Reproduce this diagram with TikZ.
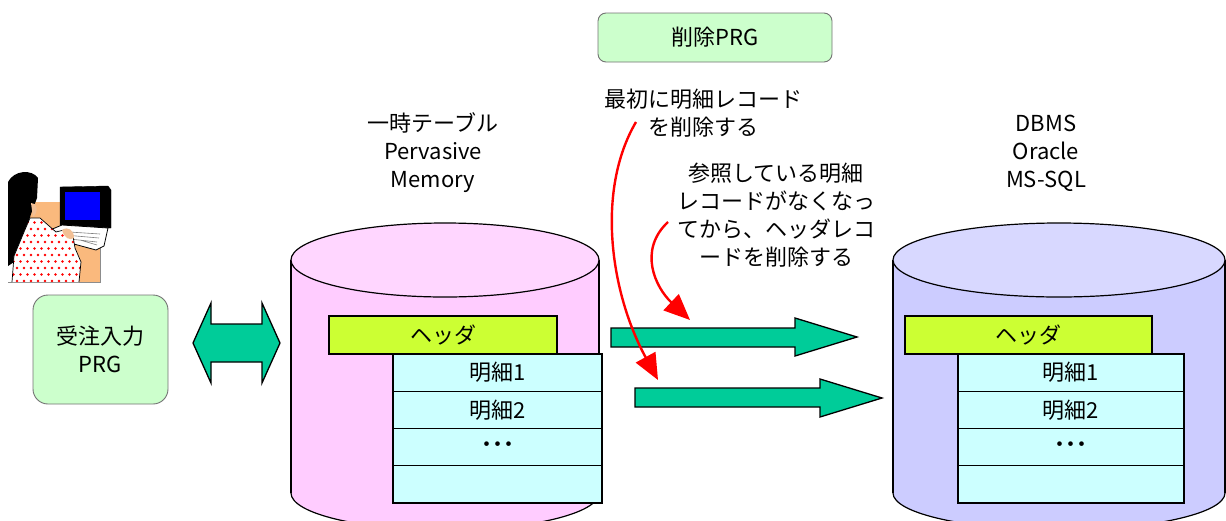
\documentclass[tikz,border=0pt]{standalone}
\usepackage{fontspec}
\setmainfont{Noto Sans CJK JP}
\usetikzlibrary{arrows.meta}

\definecolor{prgfill}{RGB}{204,255,204}
\definecolor{flow}{RGB}{0,204,153}
\definecolor{tmpside}{RGB}{255,204,255}
\definecolor{tmptop}{RGB}{255,214,255}
\definecolor{dbside}{RGB}{204,204,255}
\definecolor{dbtop}{RGB}{216,216,255}
\definecolor{hdrfill}{RGB}{204,255,51}
\definecolor{rowfill}{RGB}{204,255,255}
\definecolor{desk}{RGB}{250,185,125}
\definecolor{skin}{RGB}{242,192,150}

\begin{document}
\begin{tikzpicture}[x=1pt,y=-1pt,
  txt/.style={font=\fontsize{22}{28}\selectfont, inner sep=0pt, align=center},
  prg/.style={draw=black!55, fill=prgfill, line width=0.9pt},
  rec/.style={draw=black, line width=1.3pt},
  hdr/.style={rec, txt, fill=hdrfill, minimum height=38pt},
  row/.style={rec, txt, fill=rowfill, minimum height=37.25pt},
  blockarrow/.style={fill=flow, draw=black, line width=1.3pt},
  note/.style={draw=red, line width=2.4pt, -{Triangle[length=26pt,width=22pt]}},
  drumline/.style={draw=black, line width=1.2pt},
]
\useasboundingbox (0,0) rectangle (1226,520);

\begin{scope}
\clip (0,0) rectangle (1226,520);

% ---- temporary table drum ----
\fill[tmpside] (291,260) rectangle (599,493);
\fill[tmpside] (445,493) ellipse[x radius=154, y radius=37];
\draw[drumline] (291,260) -- (291,493);
\draw[drumline] (599,260) -- (599,493);
\begin{scope}
  \clip (0,493) rectangle (1226,600);
  \draw[drumline] (445,493) ellipse[x radius=154, y radius=37];
\end{scope}
\filldraw[drumline, fill=tmptop] (445,260) ellipse[x radius=154, y radius=37];

% ---- DBMS drum ----
\fill[dbside] (893,260) rectangle (1225,493);
\fill[dbside] (1059,493) ellipse[x radius=166, y radius=37];
\draw[drumline] (893,260) -- (893,493);
\draw[drumline] (1225,260) -- (1225,493);
\begin{scope}
  \clip (0,493) rectangle (1226,600);
  \draw[drumline] (1059,493) ellipse[x radius=166, y radius=37];
\end{scope}
\filldraw[drumline, fill=dbtop] (1059,260) ellipse[x radius=166, y radius=37];
\end{scope}

% ---- records in the temporary table ----
\node[hdr, minimum width=228pt] (hdrL) at (443,335) {ヘッダ};
\node[row, minimum width=209pt] (rowL1) at (497.5,372.6) {明細1};
\node[row, minimum width=209pt] (rowL2) at (497.5,409.9) {明細2};
\node[row, minimum width=209pt] (rowL3) at (497.5,447.1) {\bfseries ･･･};
\node[row, minimum width=209pt] (rowL4) at (497.5,484.4) {};

% ---- records in the DBMS ----
\node[hdr, minimum width=247pt] (hdrR) at (1028.5,335) {ヘッダ};
\node[row, minimum width=226pt] (rowR1) at (1071,372.6) {明細1};
\node[row, minimum width=226pt] (rowR2) at (1071,409.9) {明細2};
\node[row, minimum width=226pt] (rowR3) at (1071,447.1) {\bfseries ･･･};
\node[row, minimum width=226pt] (rowR4) at (1071,484.4) {};

% ---- labels ----
\node[txt] (tmpname) at (433,153) {一時テーブル\\Pervasive\\Memory};
\node[txt] (dbname) at (1046,153) {DBMS\\Oracle\\MS-SQL};
\node[txt] (first) at (703,113) {最初に明細レコード\\を削除する};
\node[txt] (then) at (776,215) {参照している明細\\レコードがなくなっ\\てから、ヘッダレコ\\ードを削除する};

% ---- programs ----
\node[prg, txt, rounded corners=8pt, minimum width=234pt, minimum height=49pt] (delprg) at (715,37.5) {削除PRG};
\node[prg, txt, rounded corners=15pt, minimum width=135pt, minimum height=109pt] (entry) at (100.5,349.5) {受注入力\\PRG};

% ---- operator at a terminal ----
\fill[desk] (30,202) rectangle (100,282);
\draw[black!45, line width=1pt] (8,282) -- (100,282) -- (100,232);
\filldraw[black] (60,187) -- (108,186) -- (111,190) -- (111,228) -- (62,228) -- (60,225) -- cycle;
\fill[blue] (65,192) rectangle (100,220);
\fill[black] (74,228) rectangle (100,232);
\filldraw[draw=black, fill=white, line width=0.8pt] (50,230) -- (62,225) -- (108,228) -- (104,246) -- (96,250) -- (48,237) -- cycle;
\draw[black!50, line width=0.6pt] (54,231) -- (100,234) (53,234) -- (99,238) (52,237) -- (97,242) (80,240) -- (97,245);
\fill[black] (8,182) .. controls (14,170) and (32,169) .. (38,178) -- (37,198) -- (31,214) -- (24,238) -- (14,262) -- (8,266) -- cycle;
\fill[skin] (31,203) .. controls (37,202) and (39,212) .. (33,217) -- cycle;
\begin{scope}
  \clip (12,282) -- (14,256) -- (24,232) -- (30,218) -- (40,218) -- (56,232) -- (64,230) -- (73,236) -- (75,248) -- (81,262) -- (79,282) -- cycle;
  \fill[white] (0,200) rectangle (100,290);
  \foreach \i in {0,...,10} \foreach \j in {0,...,10}
    \fill[red] ({10+\i*7+mod(\j,2)*3.5}, {216+\j*6.5}) circle[radius=1.3];
\end{scope}
\draw[black, line width=0.7pt] (12,282) -- (14,256) -- (24,232) -- (30,218) -- (40,218) -- (56,232) -- (64,230) -- (73,236) -- (75,248) -- (81,262) -- (79,282);
\fill[skin] (62,230) .. controls (68,226) and (74,230) .. (74,238) .. controls (70,241) and (64,238) .. cycle;

% ---- data flow arrows ----
\coordinate (io) at (236.5,343);
\filldraw[blockarrow] (193,343) -- (211,303) -- (211,324) -- (262,324) -- (262,303) -- (280,343)
  -- (262,383) -- (262,362) -- (211,362) -- (211,383) -- cycle;
\coordinate (hdrGo) at (611,337.5);
\coordinate (hdrTip) at (857,337);
\filldraw[blockarrow] (hdrGo |- 0,328) -- (795,328) -- (795,318) -- (hdrTip) -- (795,356) -- (795,347) -- (hdrGo |- 0,347) -- cycle;
\coordinate (rowGo) at (635,397.5);
\coordinate (rowTip) at (882,398);
\filldraw[blockarrow] (rowGo |- 0,388) -- (820,388) -- (820,379) -- (rowTip) -- (820,417) -- (820,407) -- (rowGo |- 0,407) -- cycle;

% ---- order of deletion ----
\coordinate (firstFrom) at (636,122);
\coordinate (firstTo) at (658,380);
\coordinate (thenFrom) at (668,222);
\coordinate (thenTo) at (690,320);
\draw[note] (firstFrom) .. controls (596,190) and (610,292) .. (firstTo);
\draw[note] (thenFrom) .. controls (638,250) and (655,287) .. (thenTo);
\end{tikzpicture}
\end{document}
